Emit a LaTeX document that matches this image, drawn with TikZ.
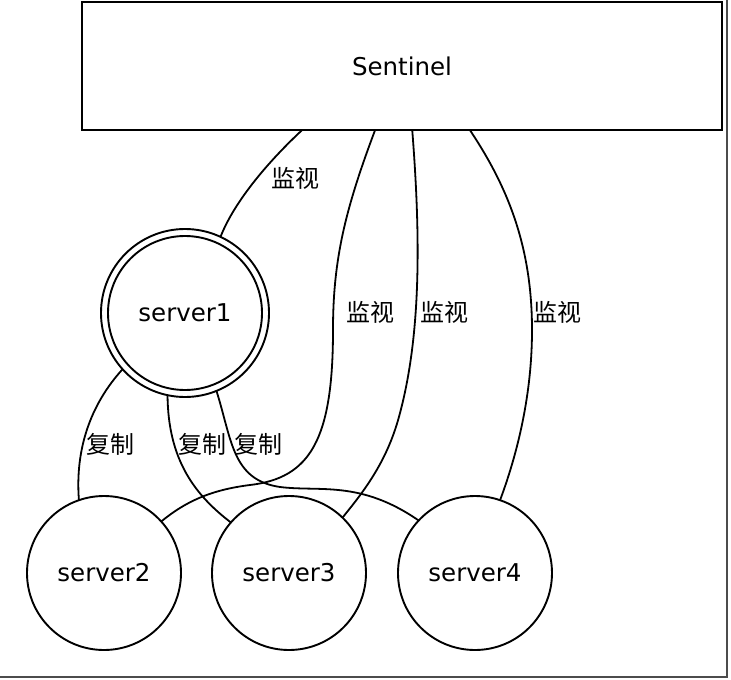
\documentclass[tikz,border=0pt]{standalone}
\usepackage{fontspec}
\setmainfont{DejaVu Sans}
\newfontfamily\cjk{Noto Sans CJK SC}
\usetikzlibrary{calc}
\begin{document}
\begin{tikzpicture}[x=1pt,y=-1pt,
  every node/.style={font=\fontsize{24.5}{29}\selectfont},
  box/.style={draw, line width=1.9pt, minimum width=640pt, minimum height=128pt, inner sep=0pt, outer sep=0pt},
  srv/.style={draw, circle, line width=1.9pt, minimum size=154pt, inner sep=0pt, outer sep=0pt},
  link/.style={line width=1.8pt},
  lbl/.style={font=\cjk\fontsize{24}{29}\selectfont, inner sep=0pt},
  frame/.style={draw=black!70, line width=2.8pt}
]
\useasboundingbox (0,0) rectangle (731,680);
\draw[frame] (0,677) -- (727,677) -- (727,0);

\node[box] (sent) at (402,66) {Sentinel};
\node[srv, minimum size=168pt] (s1) at (185,313) {server1};
\draw[line width=1.9pt] (s1.center) circle[radius=77pt];
\node[srv] (s2) at (104,573) {server2};
\node[srv] (s3) at (289,573) {server3};
\node[srv] (s4) at (475,573) {server4};

\coordinate (t1) at ($(sent.south west)!0.344!(sent.south east)$);
\coordinate (t2) at ($(sent.south west)!0.458!(sent.south east)$);
\coordinate (t3) at ($(sent.south west)!0.516!(sent.south east)$);
\coordinate (t4) at ($(sent.south west)!0.606!(sent.south east)$);

% monitor links
\draw[link] (t1) .. controls (270,160) and (235,200) .. (s1.65.8);
\draw[link] (t2) .. controls (345,210) and (333,260) .. (333,330)
  .. controls (333,440) and (310,478) .. (250,485)
  .. controls (210,490) and (185,502) .. (s2.42);
\draw[link] (t3) .. controls (420,230) and (422,330) .. (400,413)
  .. controls (388,460) and (365,490) .. (s3.46.5);
\draw[link] (t4) .. controls (510,190) and (532,250) .. (532,330)
  .. controls (532,400) and (515,460) .. (s4.71);

% replication links
\draw[link] (s1.222) .. controls (90,405) and (75,450) .. (s2.109.6);
\draw[link] (s1.-102) .. controls (168,460) and (195,495) .. (s3.139.7);
\draw[link] (s1.-68) .. controls (232,440) and (232,480) .. (280,487)
  .. controls (320,492) and (360,480) .. (s4.137);

\node[lbl] (m1) at (295,178) {监视};
\node[lbl] (m2) at (370,312) {监视};
\node[lbl] (m3) at (444,312) {监视};
\node[lbl] (m4) at (557,312) {监视};
\node[lbl] (c1) at (110,444) {复制};
\node[lbl] (c2) at (202,444) {复制};
\node[lbl] (c3) at (258,444) {复制};
\end{tikzpicture}
\end{document}
